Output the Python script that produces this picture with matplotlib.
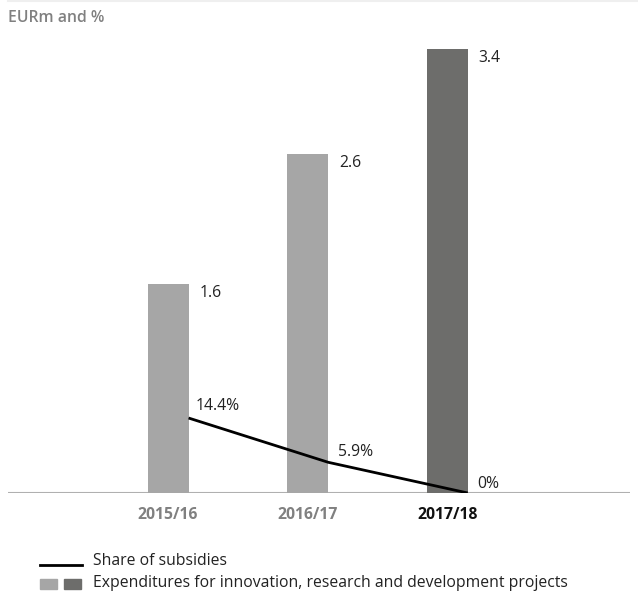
import matplotlib
matplotlib.use("Agg")
from matplotlib import pyplot as plt
from matplotlib.lines import Line2D

years = ["2015/16", "2016/17", "2017/18"]
expenditures = [1.6, 2.6, 3.4]
subsidy_share = [14.4, 5.9, 0.0]
expenditure_labels = ["1.6", "2.6", "3.4"]
share_labels = ["14.4%", "5.9%", "0%"]

LIGHT = "#a6a6a6"
DARK = "#6d6d6b"
GRAY_TEXT = "#808080"
FS = 11.3

plt.rcParams["font.family"] = ["Open Sans", "DejaVu Sans"]

fig = plt.figure(figsize=(6.38, 5.94), dpi=100)
ax = fig.add_axes([8 / 638, 1 - 493 / 594, 622 / 638, 453 / 594])

bar_width = 0.294
x = list(range(len(years)))
colors = [LIGHT, LIGHT, DARK]
ax.bar(x, expenditures, width=bar_width, color=colors, zorder=2)
ax.set_xlim(-1.147, 3.31)
ax.set_ylim(0, 3.47)

for xi, v, lab in zip(x, expenditures, expenditure_labels):
    ax.text(xi + bar_width / 2 + 0.078, v - 0.07, lab, fontsize=FS,
            color="#222222", va="center", ha="left")

ax.axhline(0, color="#b0b0b0", lw=1.5, zorder=1)
for s in ax.spines.values():
    s.set_visible(False)
ax.set_yticks([])
ax.set_xticks(x)
ax.set_xticklabels(years, fontsize=FS, fontweight="bold")
for i, t in enumerate(ax.get_xticklabels()):
    t.set_color("#111111" if i == 2 else GRAY_TEXT)
ax.tick_params(axis="x", length=0, pad=10)

# subsidy share on its own scale, drawn from the right edge of each bar
ax2 = ax.twinx()
ax2.set_ylim(0, 87)
ax2.set_xlim(ax.get_xlim())
line_x = [xi + bar_width / 2 for xi in x]
ax2.plot(line_x, subsidy_share, color="black", lw=2, zorder=3,
         solid_capstyle="butt")
offsets = [(0.05, 2.4), (0.07, 1.9), (0.07, 1.7)]
for lx, v, lab, (dx, dy) in zip(line_x, subsidy_share, share_labels, offsets):
    ax2.text(lx + dx, v + dy, lab, fontsize=FS, color="#222222",
             va="center", ha="left")
ax2.axis("off")

fig.text(8 / 638, 1 - 18 / 594, "EURm and %", fontsize=FS,
         fontweight="semibold", color=GRAY_TEXT, va="center", ha="left")
fig.add_artist(Line2D([8 / 638, 1], [1 - 1 / 594] * 2, color="#efefef", lw=1.5))

# legend
fig.add_artist(Line2D([40 / 638, 82 / 638], [1 - 565 / 594] * 2,
                      color="black", lw=2))
fig.text(93 / 638, 1 - 561 / 594, "Share of subsidies", fontsize=FS,
         color="#222222", va="center", ha="left")
fig.add_artist(plt.Rectangle((40 / 638, 1 - 589 / 594), 17 / 638, 10 / 594,
                             color=LIGHT))
fig.add_artist(plt.Rectangle((64 / 638, 1 - 589 / 594), 17 / 638, 10 / 594,
                             color=DARK))
fig.text(93 / 638, 1 - 583 / 594,
         "Expenditures for innovation, research and development projects",
         fontsize=FS, color="#222222", va="center", ha="left")

fig.savefig("out.png", dpi=100)
